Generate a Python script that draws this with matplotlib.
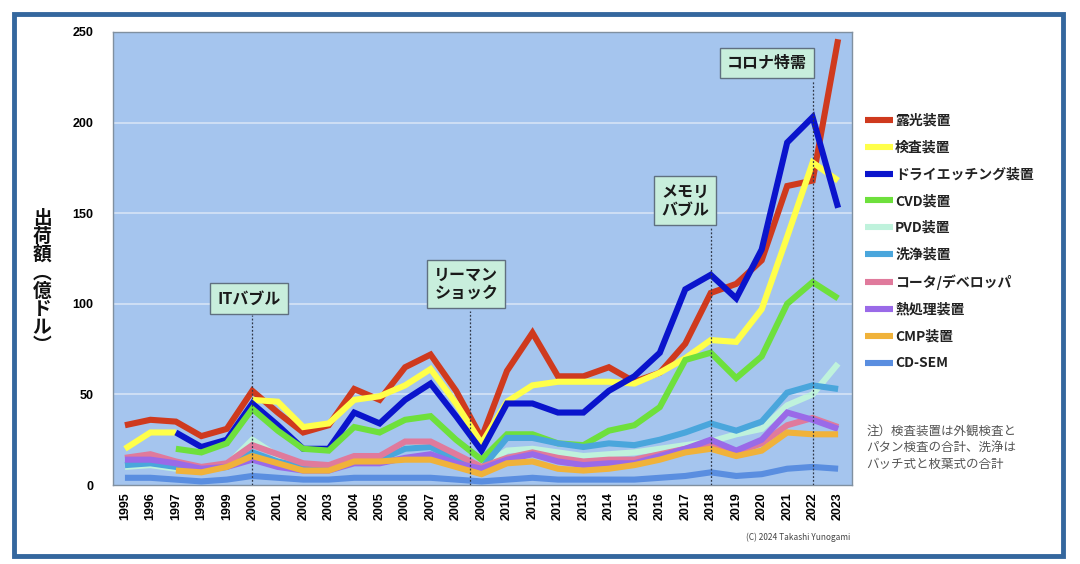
import matplotlib
matplotlib.use("Agg")
import matplotlib.pyplot as plt
import numpy as np
from matplotlib.patches import Rectangle

plt.rcParams['font.family'] = ['Noto Sans CJK JP', 'DejaVu Sans']

years = list(range(1995, 2024))
nan = np.nan

exposure = [33, 36, 35, 27, 31, 52, 40, 29, 33, 53, 47, 65, 72, 52, 26, 63, 84, 60, 60, 65, 57, 62, 78, 106, 111, 124, 165, 168, 246]
inspection = [20, 29, 29, nan, nan, 47, 46, 32, 34, 47, 49, 55, 64, 45, 23, 46, 55, 57, 57, 57, 56, 62, 70, 80, 79, 97, 137, 178, 168]
dry_etch = [nan, nan, 29, 21, 25, 45, 33, 20, 20, 40, 34, 47, 56, 38, 19, 45, 45, 40, 40, 52, 60, 73, 108, 116, 103, 130, 189, 203, 153]
cvd = [nan, nan, 20, 18, 23, 42, 30, 20, 19, 32, 29, 36, 38, 25, 14, 28, 28, 23, 22, 30, 33, 43, 69, 73, 59, 71, 100, 112, 103]
pvd = [10, 11, 9, 8, 11, 25, 16, 11, 11, 15, 15, 20, 22, 15, 10, 19, 20, 18, 16, 17, 18, 20, 22, 24, 28, 31, 44, 50, 67]
cleaning = [11, 12, 10, 8, 10, 18, 13, 10, 10, 14, 14, 20, 21, 14, 9, 26, 26, 23, 21, 23, 22, 25, 29, 34, 30, 35, 51, 55, 53]
coater = [15, 17, 13, 10, 12, 22, 17, 12, 11, 16, 16, 24, 24, 17, 10, 15, 18, 15, 13, 14, 14, 17, 20, 23, 18, 23, 33, 37, 32]
thermal = [14, 14, 12, 9, 10, 14, 10, 8, 8, 12, 12, 15, 17, 12, 9, 14, 17, 13, 11, 12, 12, 16, 20, 25, 19, 25, 40, 36, 31]
cmp = [nan, nan, 8, 7, 10, 16, 12, 8, 8, 13, 13, 14, 14, 10, 6, 12, 13, 9, 8, 9, 11, 14, 18, 20, 16, 19, 29, 28, 28]
cdsem = [4, 4, 3, 2, 3, 5, 4, 3, 3, 4, 4, 4, 4, 3, 2, 3, 4, 3, 3, 3, 3, 4, 5, 7, 5, 6, 9, 10, 9]

series_names = ['露光装置', '検査装置', 'ドライエッチング装置', 'CVD装置', 'PVD装置', '洗浄装置',
                'コータ/デベロッパ', '熱処理装置', 'CMP装置', 'CD-SEM']
series_values = [exposure, inspection, dry_etch, cvd, pvd, cleaning, coater, thermal, cmp, cdsem]
colors = ['#cf3a1e', '#ffff4a', '#0a14cc', '#6ee03c', '#bff2dc', '#4aa6dc',
          '#e07a9c', '#9a6ae8', '#f0b23a', '#5a8ee0']

events = ['ITバブル', 'リーマン\nショック', 'メモリ\nバブル', 'コロナ特需']
event_years = [2000, 2008.55, 2018, 2022]
event_label_x = [1999.87, 2008.4, 2017.0, 2020.2]
event_label_y = [103, 111, 157, 233]
event_line_top = [94, 96, 142, 223]

fig = plt.figure(figsize=(10.8, 5.64), dpi=100)
fig.patch.set_facecolor('white')
fig.patches.append(Rectangle((0.013, 0.014), 0.971, 0.962, transform=fig.transFigure,
                             fill=False, edgecolor='#34679e', linewidth=3.5))

ax = fig.add_axes([0.1046, 0.14, 0.6844, 0.8033])
ax.set_facecolor('#a5c5ee')
for s in ax.spines.values():
    s.set_color('#8090a0')
    s.set_linewidth(1.0)

ax.set_xlim(1994.53, 2023.55)
ax.set_ylim(0, 250)
ax.set_yticks([0, 50, 100, 150, 200, 250])
ax.set_xticks(years)
ax.set_xticklabels([str(y) for y in years], rotation=90, fontsize=9, fontweight='bold',
                   family='Liberation Sans')
ax.set_yticklabels([str(v) for v in [0, 50, 100, 150, 200, 250]], fontsize=9,
                   fontweight='bold', family='Liberation Sans')
ax.tick_params(length=0, pad=5)
ax.tick_params(axis='y', pad=14)
for v in [50, 100, 150, 200]:
    ax.axhline(v, color='#d6e4f6', linewidth=1.2, zorder=1)

handles = []
for name, vals, c in zip(series_names, series_values, colors):
    h, = ax.plot(years, vals, color=c, linewidth=4.4, solid_joinstyle='miter',
                 solid_capstyle='butt', zorder=3, label=name)
    handles.append(h)

for lab, ex, lx, ly, top in zip(events, event_years, event_label_x, event_label_y, event_line_top):
    ax.plot([ex, ex], [0, top], color='#303848', linestyle=(0, (1.5, 1.5)), linewidth=0.9, zorder=4)
    ax.text(lx, ly, lab, ha='center', va='center', fontsize=11.5, fontweight='bold',
            color='#1a1a1a', linespacing=1.15, zorder=5,
            bbox=dict(boxstyle='square,pad=0.45', facecolor='#c8eedc', edgecolor='#607080',
                      linewidth=1.0))

leg = fig.legend(handles=handles, loc='upper left', bbox_to_anchor=(0.796, 0.808),
                 frameon=False, fontsize=10, handlelength=2.0, handletextpad=0.15,
                 labelspacing=0.92, borderaxespad=0)
for t in leg.get_texts():
    t.set_fontweight('bold')
    t.set_color('#222222')
for l in leg.get_lines():
    l.set_linewidth(4.4)

fig.text(0.039, 0.50, '出\n荷\n額\n︵\n億\nド\nル\n︶', ha='center', va='center',
         fontsize=13.5, fontweight='bold', linespacing=0.95, color='#111111')

fig.text(0.802, 0.245, '注）検査装置は外観検査と\nパタン検査の合計、洗浄は\nバッチ式と枚葉式の合計',
         ha='left', va='top', fontsize=9, color='#555555', linespacing=1.3)

fig.text(0.787, 0.048, '(C) 2024 Takashi Yunogami', ha='right', va='center', fontsize=6,
         color='#444444')

fig.savefig('out.png', dpi=100)
